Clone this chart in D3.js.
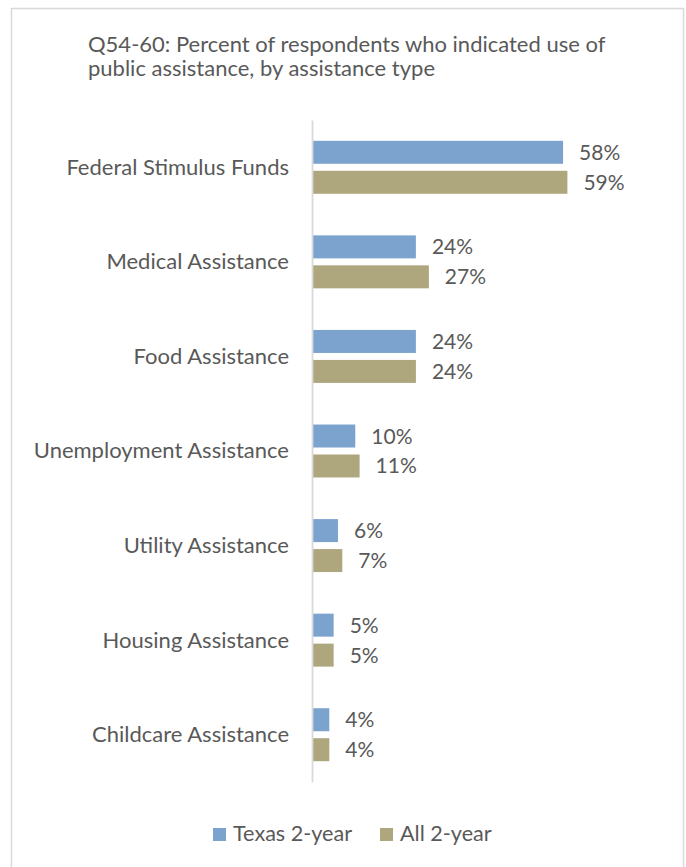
<!DOCTYPE html>
<html>
<head>
<meta charset="utf-8">
<script src="https://cdn.jsdelivr.net/npm/d3@7"></script>
<style>
  html, body { margin: 0; padding: 0; background: #fff; }
  svg { display: block; }
  text { font-family: Lato, "Open Sans", sans-serif; fill: #595959; }
</style>
</head>
<body>
<div id="chart"></div>
<script>
const titleLines = ["Q54-60: Percent of respondents who indicated use of", "public assistance, by assistance type"];
const categories = ["Federal Stimulus Funds", "Medical Assistance", "Food Assistance", "Unemployment Assistance", "Utility Assistance", "Housing Assistance", "Childcare Assistance"];
const seriesNames = ["Texas 2-year", "All 2-year"];
const texas2yr = [58, 24, 24, 10, 6, 5, 4];
const all2yr = [59, 27, 24, 11, 7, 5, 4];
const seriesColors = ["#7BA3CE", "#AEA67D"];

const W = 686, H = 867;
const svg = d3.select("#chart").append("svg").attr("width", W).attr("height", H);
svg.append("rect").attr("width", W).attr("height", H).attr("fill", "#fff");
svg.append("rect").attr("x", 11.5).attr("y", 8.5).attr("width", 672).attr("height", 880)
  .attr("fill", "none").attr("stroke", "#d9d9d9").attr("stroke-width", 1.5);

const title = svg.append("text").style("font-size", "22px");
titleLines.forEach((t, i) => title.append("tspan").attr("x", 88).attr("y", 51.5 + i * 24.5).text(t));

const x = d3.scaleLinear().domain([0, 70]).range([312, 615]);
const y = d3.scaleBand().domain(categories).range([120, 782]).padding(0);
const inner = d3.scaleBand().domain(seriesNames)
  .range([y.bandwidth() * 0.22, y.bandwidth() * 0.78]).paddingInner(0.233);

const data = categories.map((c, i) => ({ cat: c, vals: [texas2yr[i], all2yr[i]] }));

const groups = svg.append("g").selectAll("g").data(data).join("g")
  .attr("transform", d => `translate(0,${y(d.cat)})`);

groups.selectAll("rect").data(d => d.vals.map((v, j) => ({ v, s: seriesNames[j], j })))
  .join("rect")
  .attr("x", x(0)).attr("y", d => inner(d.s))
  .attr("width", d => x(d.v) - x(0)).attr("height", inner.bandwidth())
  .attr("fill", d => seriesColors[d.j]);

groups.selectAll("text.val").data(d => d.vals.map((v, j) => ({ v, s: seriesNames[j], j })))
  .join("text").attr("class", "val")
  .attr("x", d => x(d.v) + 16).attr("y", d => inner(d.s) + inner.bandwidth() / 2 + 7.5)
  .style("font-size", "21px").text(d => d.v + "%");

// category axis
const yAxis = d3.axisLeft(y).tickSize(0).tickPadding(23);
const ax = svg.append("g").attr("transform", `translate(${x(0)},0)`).call(yAxis);
ax.select(".domain").attr("stroke", "#d9d9d9").attr("stroke-width", 1.8);
ax.selectAll("text").style("font-size", "22px").style("font-family", "Lato, sans-serif").attr("fill", "#595959").attr("dy", "0.34em");

// legend
const legend = svg.append("g");
const legX = [213, 380];
seriesNames.forEach((s, i) => {
  legend.append("rect").attr("x", legX[i]).attr("y", 828).attr("width", 13).attr("height", 13).attr("fill", seriesColors[i]);
  legend.append("text").attr("x", legX[i] + 20).attr("y", 841).style("font-size", "21.6px").text(s);
});
</script>
</body>
</html>
